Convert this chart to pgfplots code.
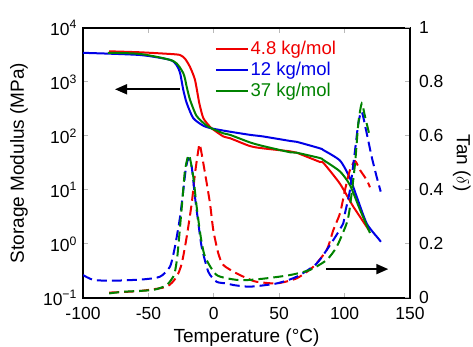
\documentclass[border=0pt]{standalone}
\usepackage{fontspec}
\setmainfont{Liberation Sans}
\usepackage{pgfplots}
\pgfplotsset{compat=1.18}
\usetikzlibrary{arrows.meta}
\definecolor{myred}{RGB}{240,0,0}
\definecolor{myblue}{RGB}{0,0,230}
\definecolor{mygreen}{RGB}{0,130,0}

\pgfplotstableread{
T E
-80 3700
-56.4 3550
-33 3300
-25.8 3160
-22 2700
-18.2 1900
-14.4 1100
-11.1 407
-8 214
-2.9 148
-1.6 138
7.3 98
12.4 91
27.7 65
37.8 59
58.3 52
63.4 49
81.2 33
83.7 32
96.5 13
106.7 4.9
119 1.75
}\redE
\pgfplotstableread{
T E
-100 3470
-56.4 3160
-33.5 2570
-28.4 2040
-25.8 1480
-23.3 708
-20.7 407
-15.7 214
-8 155
-1.6 138
7.3 126
12.4 120
27.7 105
37.8 98
58.3 81
63.4 78
81.2 59
83.7 55
96.5 35
104.1 16.6
109.2 7.6
116.9 2.4
125.8 1.26
127.8 1.1
}\blueE
\pgfplotstableread{
T E
-81 3470
-56.4 3310
-31 2450
-23.3 1450
-20.7 810
-18.2 470
-13.1 234
-5.4 155
-1.6 138
7.3 112
12.4 105
27.7 76
37.8 65
58.3 50
63.4 49
81.2 39
83.7 36
96.5 22
104.1 12.3
111.8 4.3
119.4 1.6
}\greenE
\pgfplotstableread{
T D
-80 0.020
-56.4 0.026
-36 0.042
-28.4 0.079
-24.5 0.128
-20.7 0.227
-16.9 0.35
-14.4 0.46
-11.8 0.548
-10.6 0.567
-6.7 0.462
-2.9 0.35
-0.4 0.252
3.4 0.166
7.3 0.122
17.5 0.091
27.7 0.068
32.8 0.060
48.1 0.054
63.4 0.073
76.1 0.116
86.3 0.178
91.4 0.252
96.5 0.314
100.3 0.40
104.1 0.474
108 0.507
111.8 0.474
116.9 0.437
119.4 0.41
}\redD
\pgfplotstableread{
T D
-100 0.085
-92 0.067
-76.8 0.064
-53.9 0.069
-41.1 0.079
-33.5 0.116
-29.7 0.19
-25.8 0.30
-23.3 0.40
-21.5 0.474
-19.5 0.517
-16.9 0.486
-14.4 0.375
-11.8 0.277
-9.3 0.19
-4.2 0.097
2.2 0.060
9.9 0.054
15 0.048
27.7 0.042
48.1 0.054
63.4 0.079
78.7 0.128
91.4 0.215
99 0.277
100.3 0.314
104.1 0.40
108 0.548
110.5 0.647
113.1 0.69
116.9 0.61
120.7 0.523
124.5 0.449
127.6 0.394
}\blueD
\pgfplotstableread{
T D
-80 0.017
-69.2 0.023
-46.3 0.030
-36 0.048
-31 0.079
-29.7 0.097
-27.9 0.153
-25.8 0.264
-23.8 0.375
-22 0.474
-19 0.53
-15.7 0.449
-13.1 0.338
-10 0.227
-6.7 0.153
2.2 0.085
17.5 0.067
27.7 0.067
40.4 0.073
58.3 0.085
73.5 0.104
86.3 0.141
94 0.19
101.6 0.277
104.1 0.338
108 0.499
110.5 0.647
113.1 0.72
115.6 0.672
118.7 0.61
}\greenD

\begin{document}
\fontsize{17.5}{21}\selectfont
\begin{tikzpicture}
\path[use as bounding box] (-83pt,-49pt) rectangle (390pt,298pt);
\pgfplotsset{
  common/.style={
    scale only axis, width=327pt, height=270pt,
    xmin=-100, xmax=150,
    tick align=inside,
    major tick length=5pt,
    major tick style={draw=gray!55, line width=1pt},
    axis line style={line width=1.6pt},
    /pgf/number format/assume math mode=true,
    every tick label/.append style={font=\fontsize{17.5}{21}\selectfont},
    label style={font=\fontsize{19}{23}\selectfont},
  }
}
\begin{axis}[common,
  ymode=log, ymin=0.1, ymax=10000,
  xtick={-100,-50,0,50,100,150},
  xtick pos=both, ytick pos=left,
  xticklabel style={yshift=-3.5pt},
  ytick={0.1,1,10,100,1000,10000},
  yticklabels={10\textsuperscript{−1},10\textsuperscript{0},10\textsuperscript{1},10\textsuperscript{2},10\textsuperscript{3},10\textsuperscript{4}},
  minor y tick style={draw=none},
  xlabel={Temperature (°C)},
  ylabel={Storage Modulus (MPa)},
  xlabel style={at={(axis description cs:0.5,-0.147)}, anchor=center},
  ylabel style={at={(axis description cs:-0.196,0.5)}, anchor=center},
  legend style={draw=none, fill=none, at={(axis description cs:0.403,0.957)}, anchor=north west,
    inner sep=0pt, row sep=1.5pt, nodes={inner sep=1.6pt}, font=\fontsize{18.5}{21}\selectfont},
  legend cell align=left,
  legend image code/.code={\draw[#1, line width=2pt] (0pt,0pt) -- (32pt,0pt);},
]
\addplot[myred, line width=2pt, smooth, tension=0.4] table[x=T,y=E] {\redE};
\addlegendentry{\textcolor{myred}{4.8 kg/mol}}
\addplot[myblue, line width=2pt, smooth, tension=0.4] table[x=T,y=E] {\blueE};
\addlegendentry{\textcolor{myblue}{12 kg/mol}}
\addplot[mygreen, line width=2pt, smooth, tension=0.4] table[x=T,y=E] {\greenE};
\addlegendentry{\textcolor{mygreen}{37 kg/mol}}
\draw[line width=1.8pt, -{Triangle[length=12pt,width=10pt]}] (axis cs:-25.8,733) -- (axis cs:-75.5,733);
\end{axis}
\begin{axis}[common,
  ymin=0, ymax=1,
  axis x line=none, axis y line*=right,
  ytick={0,0.2,0.4,0.6,0.8,1},
  yticklabel style={xshift=3pt, yshift=1pt},
  ylabel={Tan ($\delta$)},
  ylabel style={at={(axis description cs:1.158,0.5)}, anchor=center, rotate=180},
]
\addplot[myred, line width=2pt, dash pattern=on 10pt off 5pt, smooth, tension=0.4] table[x=T,y=D] {\redD};
\addplot[myblue, line width=2pt, dash pattern=on 10pt off 5pt, smooth, tension=0.4] table[x=T,y=D] {\blueD};
\addplot[mygreen, line width=2pt, dash pattern=on 10pt off 5pt, smooth, tension=0.4] table[x=T,y=D] {\greenD};
\draw[line width=1.8pt, -{Triangle[length=12pt,width=10pt]}] (axis cs:85.8,0.107) -- (axis cs:133.4,0.107);
\end{axis}
\end{tikzpicture}
\end{document}
